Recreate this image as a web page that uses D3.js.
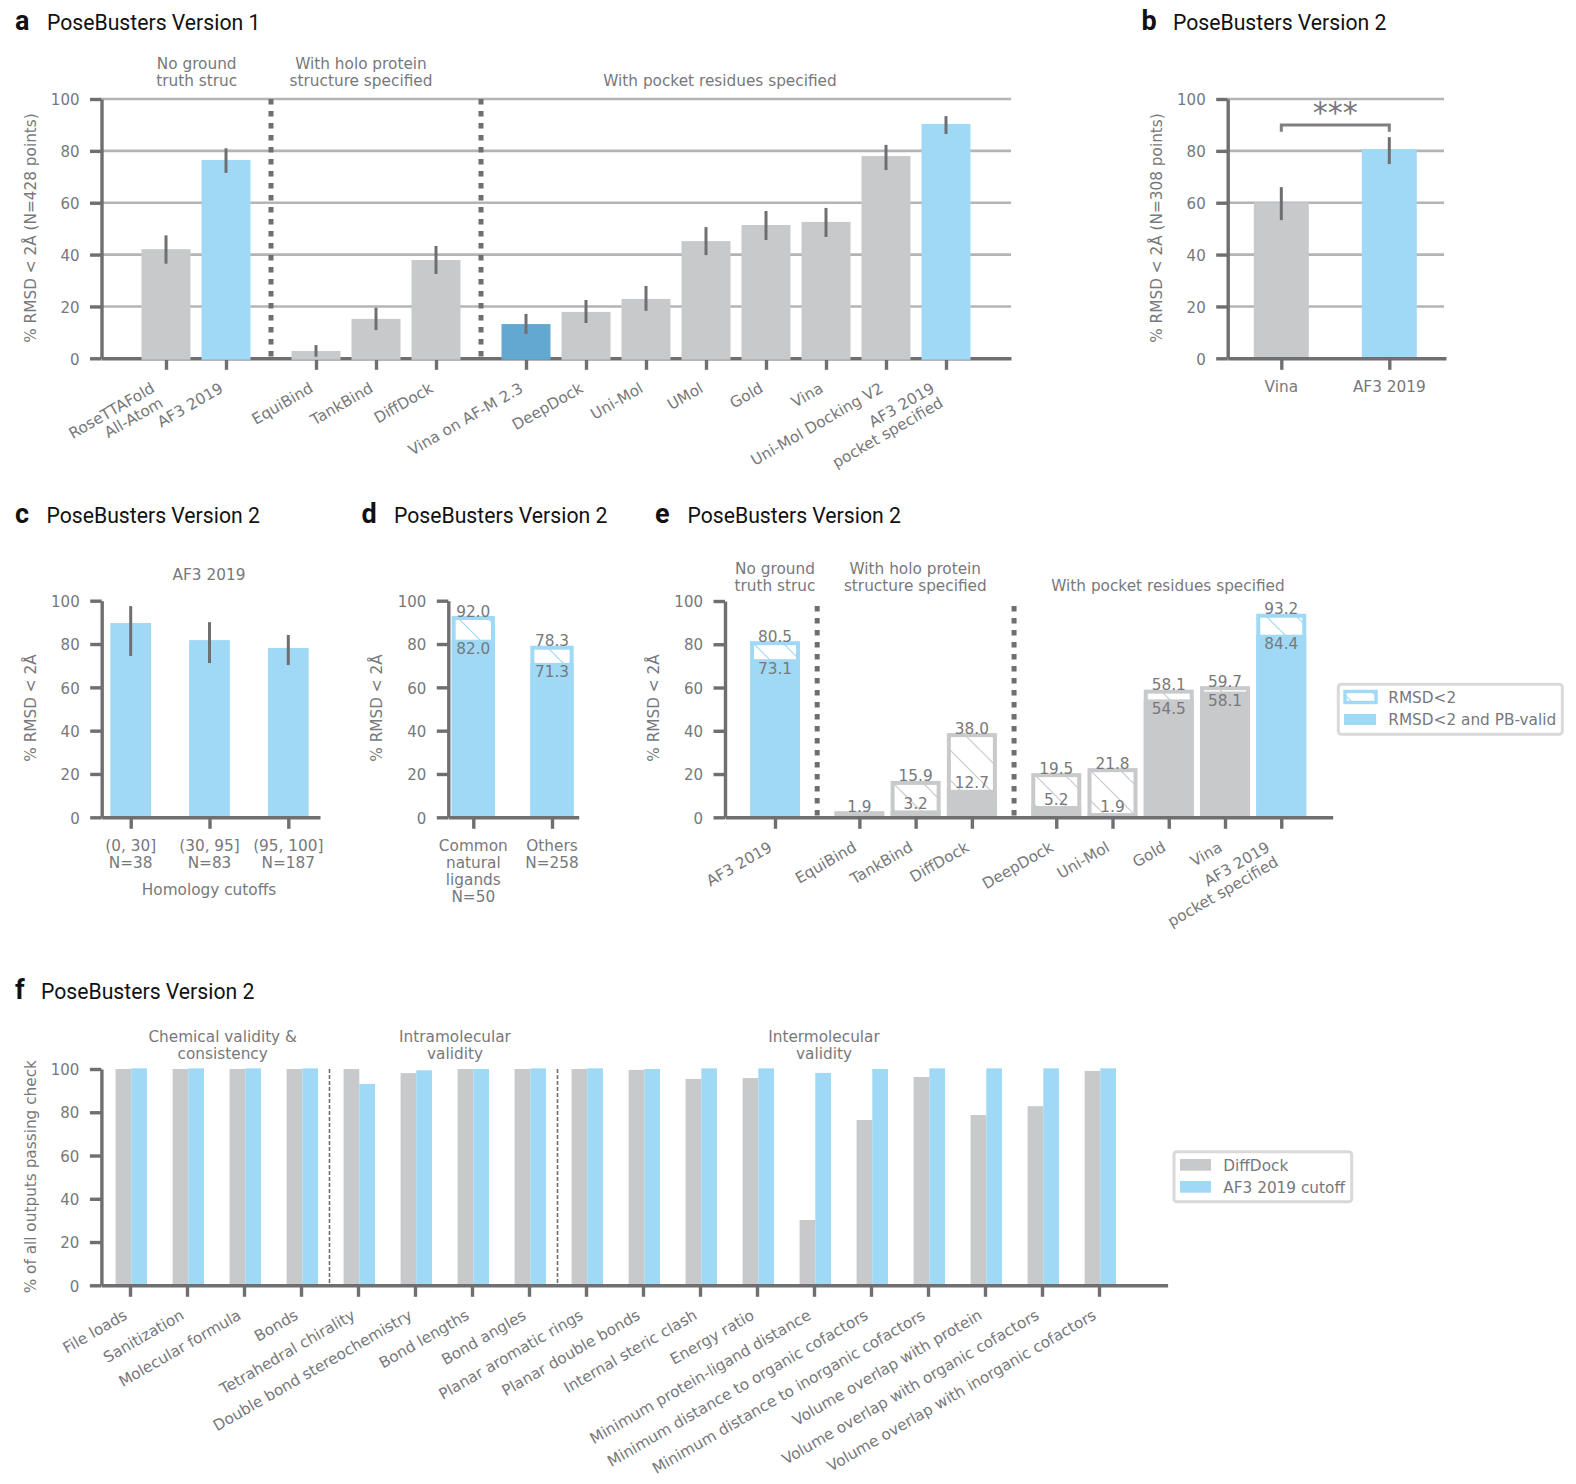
<!DOCTYPE html>
<html><head><meta charset="utf-8">
<script src="https://cdn.jsdelivr.net/npm/d3@7"></script>
<style>
html,body{margin:0;padding:0;background:#fff}
svg{display:block}
text{font-family:"DejaVu Sans",sans-serif;font-size:15.3px;fill:#77787b}
.ttl{font-family:Roboto,sans-serif;font-size:21.2px;fill:#111}
.let{font-family:Roboto,sans-serif;font-size:27px;font-weight:700;fill:#111}
</style></head><body>
<svg id="c" width="1576" height="1484"></svg>
<script>
// ---------- data ----------
const yTicks = [0,20,40,60,80,100];

const aGroups = [2,3,8];
const aLabels = ["RoseTTAFold\nAll-Atom","AF3 2019","EquiBind","TankBind","DiffDock","Vina on AF-M 2.3","DeepDock","Uni-Mol","UMol","Gold","Vina","Uni-Mol Docking V2","AF3 2019\npocket specified"];
const aValues = [42.1,76.5,2.8,15.2,37.9,13.2,17.9,22.9,45.2,51.4,52.6,78,90.4];
const aErrLow = [36.5,71.5,0.6,10.9,32.5,9.4,13.6,18.3,39.8,45.6,46.8,72.6,86.5];
const aErrHigh = [47.4,81,5.1,19.5,43.3,17.1,22.5,27.9,50.6,56.8,58,82.3,93.4];
const aKinds = ["other","af3","other","other","other","afm","other","other","other","other","other","other","af3"];
const aHeaders = ["No ground\ntruth struc","With holo protein\nstructure specified","With pocket residues specified"];

const bLabels = ["Vina","AF3 2019"];
const bValues = [60.1,80.7];
const bErrLow = [53.3,74.9];
const bErrHigh = [66,85.3];
const bKinds = ["other","af3"];

const cLabels = ["(0, 30]\nN=38","(30, 95]\nN=83","(95, 100]\nN=187"];
const cValues = [89.7,81.8,78.2];
const cErrLow = [74.5,71.2,70.3];
const cErrHigh = [97.5,90.1,84.2];

const dLabels = ["Common\nnatural\nligands\nN=50","Others\nN=258"];
const dOuter = [92.0,78.3];
const dInner = [82.0,71.3];

const eGroups = [1,3,5];
const eLabels = ["AF3 2019","EquiBind","TankBind","DiffDock","DeepDock","Uni-Mol","Gold","Vina","AF3 2019\npocket specified"];
const eOuter = [80.5,1.9,15.9,38.0,19.5,21.8,58.1,59.7,93.2];
const eInner = [73.1,null,3.2,12.7,5.2,1.9,54.5,58.1,84.4];
const eKinds = ["af3","other","other","other","other","other","other","other","af3"];

const fLabels = ["File loads","Sanitization","Molecular formula","Bonds","Tetrahedral chirality","Double bond stereochemistry","Bond lengths","Bond angles","Planar aromatic rings","Planar double bonds","Internal steric clash","Energy ratio","Minimum protein-ligand distance","Minimum distance to organic cofactors","Minimum distance to inorganic cofactors","Volume overlap with protein","Volume overlap with organic cofactors","Volume overlap with inorganic cofactors"];
const fDiffDock = [100,100,100,100,100,98.1,100,100,100,99.6,95.4,95.8,30.2,76.4,96.3,78.7,82.8,99.1];
const fAF3 = [100.3,100.3,100.3,100.3,93.1,99.4,100,100.3,100.3,100,100.3,100.3,98.2,100,100.3,100.3,100.3,100.3];
const fHeaders = ["Chemical validity &\nconsistency","Intramolecular\nvalidity","Intermolecular\nvalidity"];

// ---------- style ----------
const COL = {af3:"#a0d9f6", other:"#c8c9cb", afm:"#62a8d1"};
const AXIS = "#6f6f72", GRID = "#b4b4b6";
const svg = d3.select("#c");
const defs = svg.append("defs");
function hatch(id,color){
  const p = defs.append("pattern").attr("id",id).attr("patternUnits","userSpaceOnUse").attr("width",30).attr("height",30)
    .attr("patternTransform","translate(20,0)");
  p.append("rect").attr("width",30).attr("height",30).attr("fill","#fff");
  p.append("path").attr("d","M-3,-3L33,33").attr("stroke",color).attr("stroke-width",1.2);
}
hatch("h-af3",COL.af3); hatch("h-other",COL.other);

// slot positions with an extra half step between groups
function slots(groups){
  const out=[]; let p=0;
  groups.forEach(n=>{ for(let i=0;i<n;i++){ out.push(p); p+=1; } p+=0.5; });
  return out;
}
function multi(g,str,x,y,anchor,lh=17){
  const t = g.append("text").attr("text-anchor",anchor);
  str.split("\n").forEach((s,i)=>t.append("tspan").attr("x",x).attr("y",y+i*lh).text(s));
  return t;
}
function head(str,x,lastY){
  const n = str.split("\n").length;
  multi(svg,str,x,lastY-(n-1)*17+5.8,"middle");
}
function title(letter,text,lx,tx,y){
  svg.append("text").attr("class","let").attr("x",lx).attr("y",y).text(letter);
  svg.append("text").attr("class","ttl").attr("x",tx).attr("y",y).text(text);
}
function frame(o){
  const g = svg.append("g");
  const y = d3.scaleLinear().domain([0,100]).range([o.y0,o.y100]);
  const x = o.slot.copy().domain([o.slot.invert(o.ax),o.slot.invert(o.end)]).range([o.ax,o.end]);
  const layers = {grid:g.append("g")};
  if(o.grid) layers.grid.selectAll("line").data(yTicks.slice(1)).join("line")
    .attr("x1",o.ax).attr("x2",o.gridEnd).attr("y1",y).attr("y2",y)
    .attr("stroke",GRID).attr("stroke-width",2.6);
  const first = o.barsOver ? g.append("g") : null;
  const bars = o.barsOver ? null : g.append("g");
  const axG = first || g.append("g");
  const axL = d3.axisLeft(y).tickValues(yTicks).tickSize(11.5).tickSizeOuter(0).tickPadding(10.5);
  const axB = d3.axisBottom(x).tickValues(o.pos).tickFormat("").tickSize(11.5).tickSizeOuter(0);
  [axG.append("g").attr("transform",`translate(${o.ax},0)`).call(axL),
   axG.append("g").attr("transform",`translate(0,${o.y0})`).call(axB)].forEach(a=>{
    a.selectAll("path,line").attr("stroke",AXIS).attr("stroke-width",3.4);
    a.selectAll("text").attr("fill",null).attr("dy","0.38em").style("font-size","15px");
    a.attr("font-size",null).attr("font-family",null);
  });
  const barLayer = bars || g.append("g");
  // category labels
  const lab = g.append("g");
  o.pos.forEach((p,i)=>{
    const s = o.labels[i];
    if(o.rot){
      const n = s.split("\n").length, h = 14+(n-1)*17;
      const t = lab.append("g");
      const lines = s.split("\n");
      const txt = t.selectAll("text").data(lines).join("text").attr("text-anchor","end").text(d=>d);
      let w = 0; txt.each(function(){ w = Math.max(w,this.getComputedTextLength()); });
      txt.attr("x",w).attr("y",(d,j)=>11.5+j*17);
      const c = Math.cos(Math.PI/6), sn = Math.sin(Math.PI/6);
      const tx = x(p)-0.5-(w*c+h*sn), ty = o.y0+23+w*sn;
      t.attr("transform",`translate(${tx},${ty}) rotate(-30)`);
    } else {
      multi(lab,s,x(p),o.y0+o.labelY,"middle");
    }
  });
  // y label
  svg.append("text").attr("transform",`translate(${o.yx},${o.yc}) rotate(-90)`).attr("text-anchor","middle")
    .attr("dy","0.36em").text(o.ylab);
  return {x,y,bars:barLayer,g};
}
function errs(L,xf,y,pos,lo,hi){
  L.selectAll(null).data(pos).join("line").attr("x1",xf).attr("x2",xf)
    .attr("y1",(d,i)=>y(lo[i])).attr("y2",(d,i)=>y(hi[i]))
    .attr("stroke",AXIS).attr("stroke-width",3);
}
function solid(L,x,y,pos,vals,w,colors,base){
  L.selectAll(null).data(pos).join("rect")
    .attr("x",d=>x(d)-w/2).attr("width",w)
    .attr("y",(d,i)=>y(vals[i])).attr("height",(d,i)=>base-y(vals[i]))
    .attr("fill",(d,i)=>colors[i]);
}
function stacked(L,x,y,pos,outer,inner,w,kinds,base){
  pos.forEach((p,i)=>{
    L.append("rect").attr("x",x(p)-w/2+2).attr("width",w-4)
      .attr("y",y(outer[i])).attr("height",base-y(outer[i]))
      .attr("fill",`url(#h-${kinds[i]})`).attr("stroke",COL[kinds[i]]).attr("stroke-width",4);
    if(inner[i]!=null) L.append("rect").attr("x",x(p)-w/2).attr("width",w)
      .attr("y",y(inner[i])).attr("height",base-y(inner[i])).attr("fill",COL[kinds[i]]);
    L.append("text").attr("x",x(p)).attr("y",y(outer[i])-7).attr("dy","0.36em").attr("text-anchor","middle").text(outer[i].toFixed(1));
    if(inner[i]!=null){
      const off = inner[i]>50 ? 9 : -7;
      L.append("text").attr("x",x(p)).attr("y",y(inner[i])+off).attr("dy","0.36em").attr("text-anchor","middle").text(inner[i].toFixed(1));
    }
  });
}
function dotted(L,xs,top,bottom){
  L.selectAll(null).data(xs).join("line").attr("x1",d=>d).attr("x2",d=>d).attr("y1",top).attr("y2",bottom)
    .attr("stroke",AXIS).attr("stroke-width",5).attr("stroke-dasharray","5.4,6.6");
}

// ---------- panel a ----------
title("a","PoseBusters Version 1",15,47,29.5);
{
  const pos = slots(aGroups);
  const slot = d3.scaleLinear().domain([0,1]).range([166,226]);
  const f = frame({slot,pos,ax:101.5,end:1011,y0:358.3,y100:99,grid:true,gridEnd:1011,labels:aLabels,rot:true,yx:30,yc:228,ylab:"% RMSD < 2Å (N=428 points)",barsOver:true});
  solid(f.bars,f.x,f.y,pos,aValues,49,aKinds.map(k=>COL[k]),359.8);
  errs(f.bars,f.x,f.y,pos,aErrLow,aErrHigh);
  dotted(f.bars,[f.x(1.75),f.x(5.25)],99,358.5);
  head(aHeaders[0],196.7,80.3); head(aHeaders[1],361,80.3); head(aHeaders[2],720,80.3);
}
// ---------- panel b ----------
title("b","PoseBusters Version 2",1141.5,1173,29.5);
{
  const pos = [0,1];
  const slot = d3.scaleLinear().domain([0,1]).range([1281.3,1389.3]);
  const f = frame({slot,pos,ax:1227.7,end:1446,y0:358.3,y100:99,grid:true,gridEnd:1444,labels:bLabels,labelY:33.5,yx:1156.7,yc:228,ylab:"% RMSD < 2Å (N=308 points)"});
  solid(f.bars,f.x,f.y,pos,bValues,55,bKinds.map(k=>COL[k]),358.3);
  errs(f.bars,f.x,f.y,pos,bErrLow,bErrHigh);
  f.bars.append("path").attr("d",`M${f.x(0)},131.7V125H${f.x(1)}V131.7`).attr("fill","none").attr("stroke","#808083").attr("stroke-width",3);
  f.bars.append("text").attr("x",(f.x(0)+f.x(1))/2).attr("y",123).attr("text-anchor","middle").style("font-size","30px").text("***");
}
// ---------- panel c ----------
title("c","PoseBusters Version 2",15,46.5,522.7);
{
  const pos = [0,1,2];
  const slot = d3.scaleLinear().domain([0,1]).range([130.7,209.5]);
  const f = frame({slot,pos,ax:101.7,end:320,y0:817.3,y100:600.7,labels:cLabels,labelY:33.7,yx:30,yc:708,ylab:"% RMSD < 2Å"});
  solid(f.bars,f.x,f.y,pos,cValues,40.7,pos.map(()=>COL.af3),817.3);
  errs(f.bars,f.x,f.y,pos,cErrLow,cErrHigh);
  head("AF3 2019",209,574);
  svg.append("text").attr("x",209).attr("y",894.8).attr("text-anchor","middle").text("Homology cutoffs");
}
// ---------- panel d ----------
title("d","PoseBusters Version 2",361.5,394,522.7);
{
  const pos = [0,1];
  const slot = d3.scaleLinear().domain([0,1]).range([473.3,552]);
  const f = frame({slot,pos,ax:448.3,end:578.7,y0:817.3,y100:600.7,labels:dLabels,labelY:33.7,yx:376.7,yc:708,ylab:"% RMSD < 2Å"});
  stacked(f.bars,f.x,f.y,pos,dOuter,dInner,43.3,["af3","af3"],815.5);
}
// ---------- panel e ----------
title("e","PoseBusters Version 2",655,687.5,522.7);
{
  const pos = slots(eGroups);
  const slot = d3.scaleLinear().domain([0,1]).range([775,831.25]);
  const f = frame({slot,pos,ax:725,end:1332.7,y0:817.3,y100:601,labels:eLabels,rot:true,yx:653,yc:708,ylab:"% RMSD < 2Å"});
  stacked(f.bars,f.x,f.y,pos,eOuter,eInner,50,eKinds,815.5);
  dotted(f.bars,[f.x(0.75),f.x(4.25)],606,817);
  head("No ground\ntruth struc",775,585);
  head("With holo protein\nstructure specified",915.3,585);
  head("With pocket residues specified",1168,585);
  const lg = svg.append("g");
  lg.append("rect").attr("x",1338.3).attr("y",684.3).attr("width",224).attr("height",50).attr("rx",3).attr("fill","#fff").attr("stroke","#d9d9da").attr("stroke-width",3);
  lg.append("rect").attr("x",1345).attr("y",691.5).attr("width",31).attr("height",11).attr("fill","url(#h-af3)").attr("stroke",COL.af3).attr("stroke-width",3.4);
  lg.append("rect").attr("x",1344).attr("y",714).attr("width",32).attr("height",11).attr("fill",COL.af3);
  lg.append("text").attr("x",1388.3).attr("y",697.3).attr("dy","0.36em").text("RMSD<2");
  lg.append("text").attr("x",1388.3).attr("y",719.3).attr("dy","0.36em").text("RMSD<2 and PB-valid");
}
// ---------- panel f ----------
title("f","PoseBusters Version 2",15,41,999);
{
  const pos = fLabels.map((d,i)=>i);
  const slot = d3.scaleLinear().domain([0,1]).range([130,187]);
  const f = frame({slot,pos,ax:101.4,end:1167.6,y0:1285.3,y100:1069,labels:fLabels,rot:true,yx:30.6,yc:1176.7,ylab:"% of all outputs passing check"});
  const w = 15.7, shift = 1.3;
  f.bars.selectAll(null).data(pos).join("rect").attr("x",d=>f.x(d)-w+shift).attr("width",w)
    .attr("y",(d,i)=>f.y(fDiffDock[i])).attr("height",(d,i)=>1284-f.y(fDiffDock[i])).attr("fill",COL.other);
  f.bars.selectAll(null).data(pos).join("rect").attr("x",d=>f.x(d)+shift).attr("width",w)
    .attr("y",(d,i)=>f.y(fAF3[i])).attr("height",(d,i)=>1284-f.y(fAF3[i])).attr("fill",COL.af3);
  f.bars.selectAll(null).data([3.5,7.5]).join("line").attr("x1",d=>f.x(d)).attr("x2",d=>f.x(d)).attr("y1",1069).attr("y2",1285)
    .attr("stroke",AXIS).attr("stroke-width",1.6).attr("stroke-dasharray","4,2");
  head(fHeaders[0],222.7,1052.7); head(fHeaders[1],455,1052.7); head(fHeaders[2],824,1052.7);
  const lg = svg.append("g");
  lg.append("rect").attr("x",1174).attr("y",1151.7).attr("width",177.7).attr("height",50).attr("rx",3).attr("fill","#fff").attr("stroke","#d9d9da").attr("stroke-width",3);
  lg.append("rect").attr("x",1180).attr("y",1159).attr("width",31).attr("height",11.7).attr("fill",COL.other);
  lg.append("rect").attr("x",1180).attr("y",1181).attr("width",31).attr("height",11.7).attr("fill",COL.af3);
  lg.append("text").attr("x",1223.3).attr("y",1165).attr("dy","0.36em").text("DiffDock");
  lg.append("text").attr("x",1223.3).attr("y",1187).attr("dy","0.36em").text("AF3 2019 cutoff");
}
</script>
</body></html>
